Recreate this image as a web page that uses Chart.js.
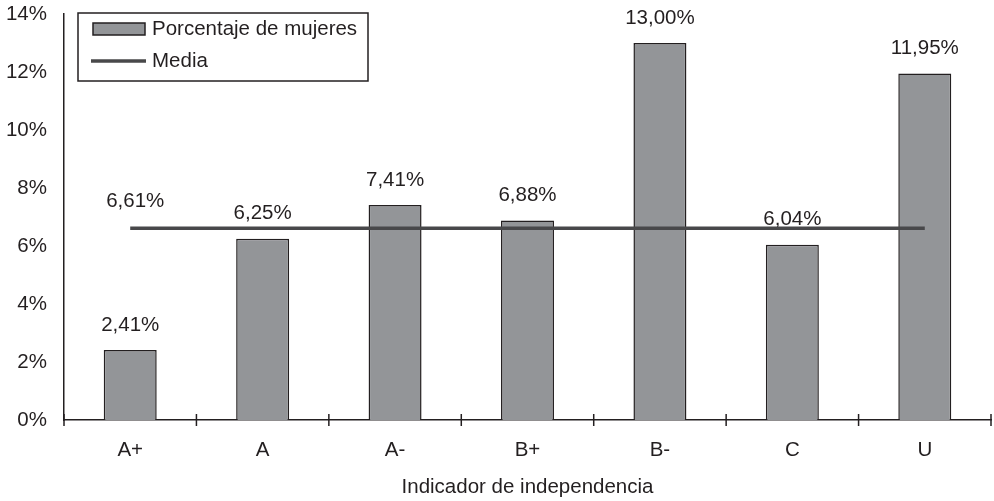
<!DOCTYPE html>
<html>
<head>
<meta charset="utf-8">
<script src="https://cdn.jsdelivr.net/npm/chart.js@4.4.1/dist/chart.umd.min.js"></script>
<style>
  html, body { margin: 0; padding: 0; background: #fff; }
  #wrap { width: 994px; height: 501px; }
</style>
</head>
<body>
<div id="wrap"><canvas id="chart"></canvas></div>
<script>
// categories and values
const categories = ['A+', 'A', 'A-', 'B+', 'B-', 'C', 'U']
const womenPct = [2.41, 6.25, 7.41, 6.88, 13.00, 6.04, 11.95]
const meanPct = [6.61, 6.61, 6.61, 6.61, 6.61, 6.61, 6.61]
const yTicks = [0, 2, 4, 6, 8, 10, 12, 14]

const FONT = 'Liberation Sans, Arial, Helvetica, sans-serif'
const FSIZE = 20.5
const INK = '#231f20'

const fmt = v => v.toFixed(2).replace('.', ',') + '%'

// value labels over bars (drawn before the mean line so the line sits on top)
const valueLabels = {
  id: 'valueLabels',
  afterDatasetDraw(chart, args) {
    const ctx = chart.ctx
    ctx.save()
    ctx.font = FSIZE + 'px ' + FONT
    ctx.fillStyle = INK
    ctx.textAlign = 'center'
    ctx.textBaseline = 'middle'
    if (args.index === 1) {
      args.meta.data.forEach((el, i) => {
        ctx.fillText(fmt(womenPct[i]), el.x, el.y - 25)
      })
    } else if (args.index === 0) {
      const el = args.meta.data[0]
      ctx.fillText(fmt(meanPct[0]), el.x + 5, el.y - 27)
    }
    ctx.restore()
  }
}

// ticks crossing the x axis at category boundaries
const crossTicks = {
  id: 'crossTicks',
  afterDraw(chart) {
    const x = chart.scales.x
    const ctx = chart.ctx
    const step = x.getPixelForValue(1) - x.getPixelForValue(0)
    ctx.save()
    ctx.strokeStyle = INK
    ctx.lineWidth = 1.5
    for (let i = 0; i <= categories.length; i++) {
      const px = x.getPixelForValue(i) - step / 2
      ctx.beginPath()
      ctx.moveTo(px, x.top - 6)
      ctx.lineTo(px, x.top + 6)
      ctx.stroke()
    }
    ctx.restore()
  }
}

// boxed legend in the top-left corner of the plot
const boxLegend = {
  id: 'boxLegend',
  afterDraw(chart) {
    const ctx = chart.ctx
    const ds = chart.data.datasets
    ctx.save()
    ctx.fillStyle = '#fff'
    ctx.fillRect(78, 13, 290, 68)
    ctx.strokeStyle = INK
    ctx.lineWidth = 1.5
    ctx.strokeRect(78, 13, 290, 68)

    ctx.fillStyle = ds[1].backgroundColor
    ctx.fillRect(93, 23, 52, 12)
    ctx.lineWidth = 1.5
    ctx.strokeRect(93, 23, 52, 12)

    ctx.strokeStyle = ds[0].borderColor
    ctx.lineWidth = ds[0].borderWidth
    ctx.beginPath()
    ctx.moveTo(91, 61)
    ctx.lineTo(146, 61)
    ctx.stroke()

    ctx.font = FSIZE + 'px ' + FONT
    ctx.fillStyle = INK
    ctx.textBaseline = 'middle'
    ctx.fillText(ds[1].label, 152, 29)
    ctx.fillText(ds[0].label, 152, 61)
    ctx.restore()
  }
}

new Chart(document.getElementById('chart'), {
  data: {
    labels: categories,
    datasets: [
      {
        type: 'line',
        label: 'Media',
        data: meanPct,
        borderColor: '#48484a',
        borderWidth: 3.5,
        pointRadius: 0,
        tension: 0,
        fill: false,
        order: 0
      },
      {
        type: 'bar',
        label: 'Porcentaje de mujeres',
        data: womenPct,
        backgroundColor: '#939598',
        borderColor: INK,
        borderWidth: 1.5,
        barPercentage: 0.4,
        categoryPercentage: 1,
        order: 1
      }
    ]
  },
  options: {
    responsive: true,
    maintainAspectRatio: false,
    animation: false,
    layout: { padding: { top: 14, right: 3, left: 0, bottom: 0 } },
    plugins: {
      legend: { display: false },
      tooltip: { enabled: false }
    },
    scales: {
      x: {
        offset: true,
        afterFit: s => { s.height = 81 },
        grid: { display: false },
        border: { display: true, color: INK, width: 1.5 },
        ticks: { color: INK, font: { family: FONT, size: FSIZE }, padding: 10 },
        title: {
          display: true,
          text: 'Indicador de independencia',
          color: INK,
          font: { family: FONT, size: FSIZE },
          padding: { top: 4, bottom: 1 }
        }
      },
      y: {
        min: 0,
        max: 14,
        afterFit: s => {
          s.width = 64
          s.paddingTop = 0
          s.paddingBottom = 0
        },
        afterBuildTicks: s => { s.ticks = yTicks.map(v => ({ value: v })) },
        grid: { display: false, drawTicks: false },
        border: { display: true, color: INK, width: 1.5 },
        ticks: {
          color: INK,
          font: { family: FONT, size: FSIZE },
          padding: 17,
          callback: v => v + '%'
        }
      }
    }
  },
  plugins: [valueLabels, crossTicks, boxLegend]
})
</script>
</body>
</html>
